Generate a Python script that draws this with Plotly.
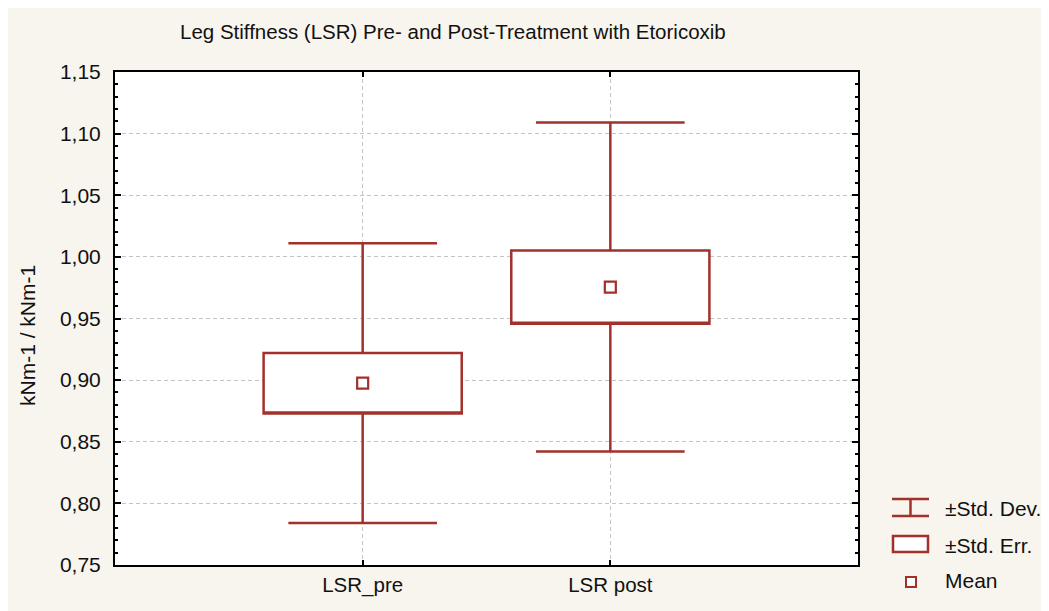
import plotly.graph_objects as go

# ---- data ----
categories = ["LSR_pre", "LSR post"]
means = [0.8975, 0.9755]
std_devs = [0.1135, 0.1335]
std_errs = [0.0245, 0.0297]
y_ticks = [0.75, 0.80, 0.85, 0.90, 0.95, 1.00, 1.05, 1.10, 1.15]
y_tick_labels = ["0,75", "0,80", "0,85", "0,90", "0,95", "1,00", "1,05", "1,10", "1,15"]
legend_labels = ["±Std. Dev.", "±Std. Err.", "Mean"]
title_text = "Leg Stiffness (LSR) Pre- and Post-Treatment with Etoricoxib"
y_title = "kNm-1 / kNm-1"

RED = "#A3312B"
BG = "#F8F5EE"
FONT = "Liberation Sans, Arial, sans-serif"
TXT = "#111111"

W, H = 1049 + 8, 611 + 8
OFF = 8  # page body margin
# plot area in screenshot pixels
L, R, T, B = 115, 858, 72, 565

q1 = [m - s for m, s in zip(means, std_errs)]
q3 = [m + s for m, s in zip(means, std_errs)]
lo = [m - s for m, s in zip(means, std_devs)]
hi = [m + s for m, s in zip(means, std_devs)]

fig = go.Figure()
fig.add_trace(go.Box(
    x=categories, q1=q1, median=q1, q3=q3, lowerfence=lo, upperfence=hi,
    width=0.8, whiskerwidth=0.75, fillcolor="white",
    line=dict(color=RED, width=2.5), boxpoints=False, showlegend=False,
    hoverinfo="skip",
))
fig.add_trace(go.Scatter(
    x=categories, y=means, mode="markers",
    marker=dict(symbol="square", size=11, color="white", line=dict(color=RED, width=2.2)),
    showlegend=False, hoverinfo="skip",
))

def px_x(p):
    return (p - L) / (R - L)

def px_y(p):
    return (B - p) / (B - T)

shapes = [
    # legend: I-shaped std dev
    dict(type="line", xref="paper", yref="paper", x0=px_x(892), x1=px_x(929), y0=px_y(499), y1=px_y(499), line=dict(color=RED, width=2.5)),
    dict(type="line", xref="paper", yref="paper", x0=px_x(892), x1=px_x(929), y0=px_y(516), y1=px_y(516), line=dict(color=RED, width=2.5)),
    dict(type="line", xref="paper", yref="paper", x0=px_x(910.5), x1=px_x(910.5), y0=px_y(499), y1=px_y(516), line=dict(color=RED, width=2.5)),
    # legend: std err box
    dict(type="rect", xref="paper", yref="paper", x0=px_x(893), x1=px_x(928), y0=px_y(552), y1=px_y(536),
         fillcolor="white", line=dict(color=RED, width=2.5)),
    # legend: mean square
    dict(type="rect", xref="paper", yref="paper", x0=px_x(906), x1=px_x(916), y0=px_y(587), y1=px_y(577),
         fillcolor="white", line=dict(color=RED, width=2)),
]

annotations = []
for lbl, py in zip(legend_labels, [508, 545, 580]):
    annotations.append(dict(text=lbl, xref="paper", yref="paper", x=px_x(943), y=px_y(py),
                            xanchor="left", yanchor="middle", showarrow=False,
                            font=dict(family=FONT, size=21, color=TXT)))
annotations.append(dict(text=y_title, xref="paper", yref="paper", x=px_x(27), y=px_y(336),
                        xanchor="center", yanchor="middle", textangle=-90, showarrow=False,
                        font=dict(family=FONT, size=21, color=TXT)))
annotations.append(dict(text=title_text, xref="paper", yref="paper", x=px_x(453), y=px_y(32),
                        xanchor="center", yanchor="middle", showarrow=False,
                        font=dict(family=FONT, size=20.5, color=TXT)))

fig.update_layout(
    width=W, height=H,
    margin=dict(l=L - OFF, r=W - (R - OFF), t=T - OFF, b=H - (B - OFF), pad=0),
    paper_bgcolor=BG, plot_bgcolor="white",
    shapes=shapes, annotations=annotations,
    font=dict(family=FONT, size=21, color=TXT),
    showlegend=False,
)
fig.update_xaxes(
    type="category", categoryorder="array", categoryarray=categories,
    range=[-1, 2], showline=True, linecolor="black", linewidth=2, mirror="allticks",
    ticks="inside", ticklen=5, tickcolor="black", tickwidth=1.5,
    showgrid=True, gridcolor="#C4C4C4", griddash="4px,3px", gridwidth=1,
    tickfont=dict(family=FONT, size=20.5, color=TXT), zeroline=False,
)
fig.update_yaxes(
    range=[0.75, 1.15], tickvals=y_ticks, ticktext=y_tick_labels,
    showline=True, linecolor="black", linewidth=2, mirror="allticks",
    ticks="inside", ticklen=6, tickcolor="black", tickwidth=1.5,
    ticklabelstandoff=8,
    minor=dict(dtick=0.01, ticks="inside", ticklen=3, tickcolor="black", tickwidth=1.5, showgrid=False),
    showgrid=True, gridcolor="#C4C4C4", griddash="4px,3px", gridwidth=1,
    tickfont=dict(family=FONT, size=21, color=TXT), zeroline=False,
)

fig.write_html("out.html")
